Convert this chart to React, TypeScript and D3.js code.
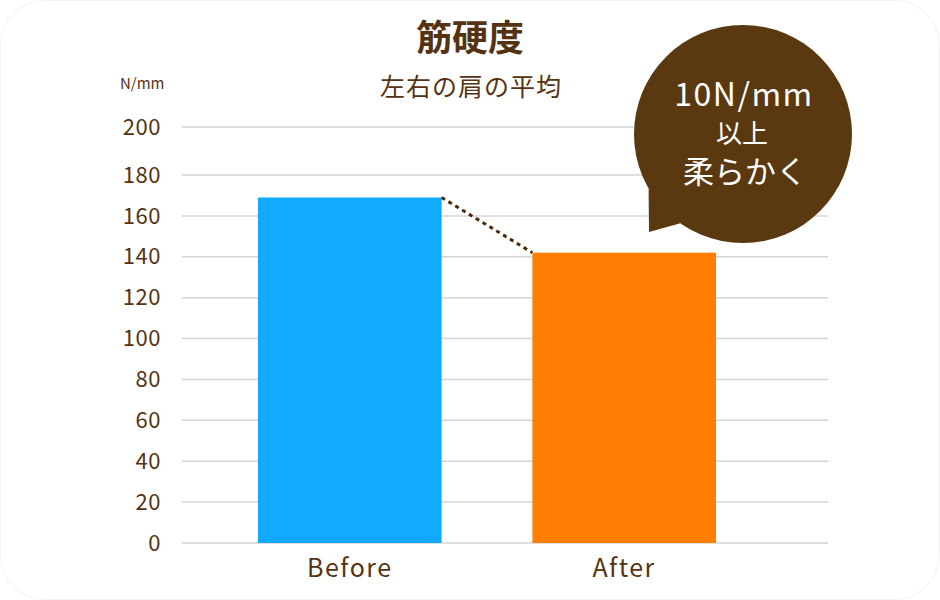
import React from "react";
import * as d3 from "d3";

const categories = ["Before", "After"];
const values = [169, 142];
const tickValues = [0, 20, 40, 60, 80, 100, 120, 140, 160, 180, 200];
const title = "筋硬度";
const subtitle = "左右の肩の平均";
const unitLabel = "N/mm";
const bubbleLines = ["10N/mm", "以上", "柔らかく"];

const W = 940;
const H = 600;
const BROWN = "#553312";
const FONT = "'Noto Sans CJK JP', 'Noto Sans', sans-serif";

export default function App() {
  // axis with a compressed top segment (180 -> 200)
  const y = d3.scaleLinear().domain([0, 180, 200]).range([543, 175, 127]);
  const x = d3
    .scaleBand<string>()
    .domain(categories)
    .range([258, 716])
    .paddingInner(91 / 275)
    .paddingOuter(0);
  const colors = ["#12aaff", "#ff7d00"];
  const gridX0 = 182;
  const gridX1 = 828;

  const bw = x.bandwidth();
  const b0 = x(categories[0])! + bw;
  const b1 = x(categories[1])!;

  // bubble
  const cx = 743;
  const cy = 134;
  const r = 109;
  const a1 = (150 * Math.PI) / 180;
  const a2 = (125 * Math.PI) / 180;
  const p1 = [cx + r * Math.cos(a1), cy + r * Math.sin(a1)];
  const p2 = [cx + r * Math.cos(a2), cy + r * Math.sin(a2)];
  const tip = [649, 232];

  return (
    <svg
      width={W}
      height={H}
      style={{ position: "absolute", left: 0, top: 0 }}
      fontFamily={FONT}
    >
      <rect x={0} y={0} width={W} height={H} fill="#ffffff" />
      <rect
        x={0.5}
        y={0.5}
        width={W - 1}
        height={H - 1}
        rx={45}
        fill="#ffffff"
        stroke="#f2f2f2"
      />
      <text x={470} y={51} textAnchor="middle" fontSize={36} fontWeight={700} fill={BROWN}>
        {title}
      </text>
      <text x={471} y={96} textAnchor="middle" fontSize={25} fill={BROWN} letterSpacing={1}>
        {subtitle}
      </text>
      <text x={120} y={89} fontSize={15} fill={BROWN}>
        {unitLabel}
      </text>
      {tickValues.map((t) => (
        <g key={t}>
          <line x1={gridX0} x2={gridX1} y1={y(t)} y2={y(t)} stroke="#d4d4d4" strokeWidth={1.5} />
          <text
            x={161}
            y={y(t)}
            dy="0.35em"
            textAnchor="end"
            fontSize={22}
            fill={BROWN}
            letterSpacing={0.5}
          >
            {t}
          </text>
        </g>
      ))}
      {categories.map((c, i) => (
        <g key={c}>
          <rect
            x={x(c)}
            y={y(values[i])}
            width={bw}
            height={y(0) - y(values[i])}
            fill={colors[i]}
          />
          <text
            x={x(c)! + bw / 2}
            y={577}
            textAnchor="middle"
            fontSize={25}
            fill={BROWN}
            letterSpacing={1.5}
          >
            {c}
          </text>
        </g>
      ))}
      <line
        x1={b0}
        y1={y(values[0])}
        x2={b1}
        y2={y(values[1])}
        stroke="#4a2c0c"
        strokeWidth={3}
        strokeDasharray="4 4"
      />
      <g>
        <circle cx={cx} cy={cy} r={r} fill="#5a3810" />
        <path
          d={`M${p1[0]},${p1[1]} L${tip[0]},${tip[1]} L${p2[0]},${p2[1]} Z`}
          fill="#5a3810"
        />
        <text x={cx + 1} y={106} textAnchor="middle" fontSize={32} fill="#ffffff" letterSpacing={1.5}>
          {bubbleLines[0]}
        </text>
        <text x={cx - 1} y={143} textAnchor="middle" fontSize={26} fill="#ffffff">
          {bubbleLines[1]}
        </text>
        <text x={cx + 2} y={183} textAnchor="middle" fontSize={31} fill="#ffffff">
          {bubbleLines[2]}
        </text>
      </g>
    </svg>
  );
}
